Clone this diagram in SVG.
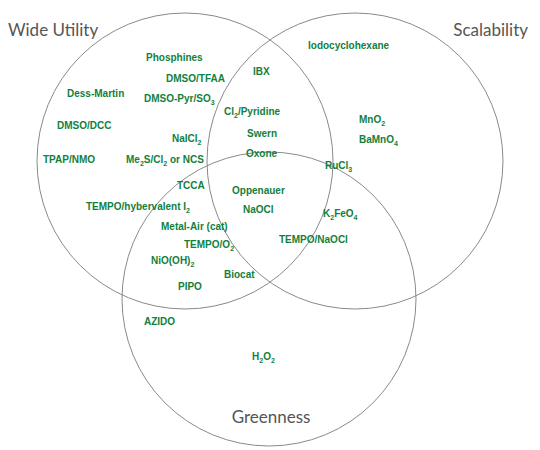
<svg xmlns="http://www.w3.org/2000/svg" width="540" height="450" viewBox="0 0 540 450">
<style>
.c{fill:none;stroke:#8a8a8a;stroke-width:1}
.t{font-family:Lato,"Liberation Sans",sans-serif;font-size:17px;fill:#555}
.l{font-family:"Liberation Sans",Arial,sans-serif;font-size:10px;font-weight:bold;fill:#12803d}
.s{font-size:7px}
</style>
<rect width="540" height="450" fill="#fff"/>
<g id="set-wide-utility">
<circle class="c" cx="185" cy="161" r="148"/>
<text class="t" x="8" y="36">Wide Utility</text>
</g>
<g id="set-scalability">
<circle class="c" cx="355" cy="161" r="148"/>
<text class="t" x="528" y="36" text-anchor="end">Scalability</text>
</g>
<g id="set-greenness">
<circle class="c" cx="269" cy="299" r="147"/>
<text class="t" x="271" y="423" text-anchor="middle">Greenness</text>
</g>
<g id="connectors"></g>
<g id="labels">
<text class="l" x="146" y="61">Phosphines</text>
<text class="l" x="166" y="82">DMSO/TFAA</text>
<text class="l" x="253" y="75">IBX</text>
<text class="l" x="308" y="49">Iodocyclohexane</text>
<text class="l" x="67" y="97">Dess-Martin</text>
<text class="l" x="144" y="102">DMSO-Pyr/SO<tspan class="s" dy="3">3</tspan></text>
<text class="l" x="224" y="115">Cl<tspan class="s" dy="3">2</tspan><tspan dy="-3">/Pyridine</tspan></text>
<text class="l" x="359" y="123">MnO<tspan class="s" dy="3">2</tspan></text>
<text class="l" x="57" y="129">DMSO/DCC</text>
<text class="l" x="247" y="137">Swern</text>
<text class="l" x="172" y="142">NaICl<tspan class="s" dy="3">2</tspan></text>
<text class="l" x="359" y="143">BaMnO<tspan class="s" dy="3">4</tspan></text>
<text class="l" x="246" y="157">Oxone</text>
<text class="l" x="43" y="163">TPAP/NMO</text>
<text class="l" x="126" y="163">Me<tspan class="s" dy="3">2</tspan><tspan dy="-3">S/Cl</tspan><tspan class="s" dy="3">2</tspan><tspan dy="-3"> or NCS</tspan></text>
<text class="l" x="325" y="169">RuCl<tspan class="s" dy="3">3</tspan></text>
<text class="l" x="177" y="189">TCCA</text>
<text class="l" x="232" y="194">Oppenauer</text>
<text class="l" x="86" y="210">TEMPO/hybervalent I<tspan class="s" dy="3">2</tspan></text>
<text class="l" x="243" y="213">NaOCl</text>
<text class="l" x="323" y="217">K<tspan class="s" dy="3">2</tspan><tspan dy="-3">FeO</tspan><tspan class="s" dy="3">4</tspan></text>
<text class="l" x="161" y="230">Metal-Air (cat)</text>
<text class="l" x="279" y="243">TEMPO/NaOCl</text>
<text class="l" x="184" y="248">TEMPO/O<tspan class="s" dy="3">2</tspan></text>
<text class="l" x="151" y="264">NiO(OH)<tspan class="s" dy="3">2</tspan></text>
<text class="l" x="224" y="278">Biocat</text>
<text class="l" x="178" y="290">PIPO</text>
<text class="l" x="144" y="325">AZIDO</text>
<text class="l" x="252" y="360">H<tspan class="s" dy="3">2</tspan><tspan dy="-3">O</tspan><tspan class="s" dy="3">2</tspan></text>
</g>
</svg>
